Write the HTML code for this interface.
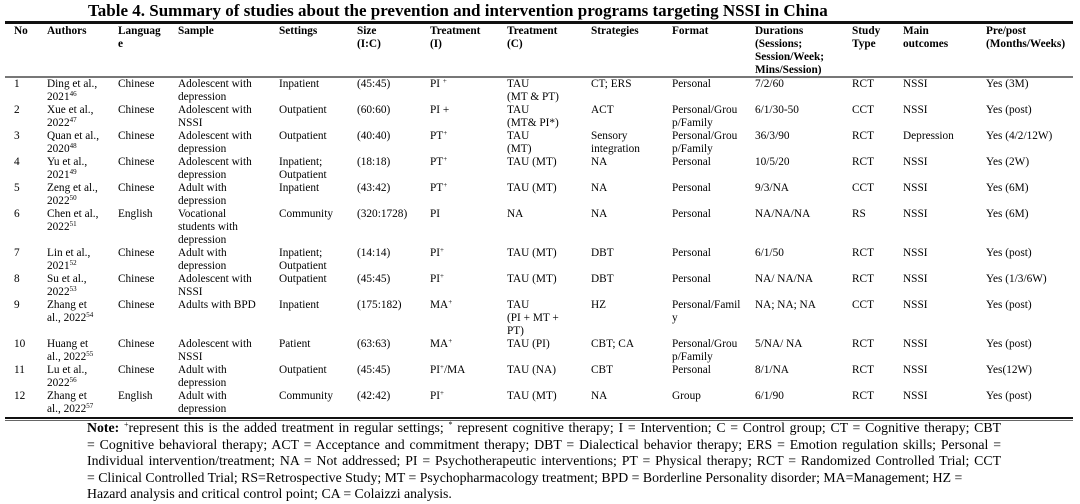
<!DOCTYPE html>
<html>
<head>
<meta charset="utf-8">
<style>
  html, body { margin:0; padding:0; background:#fff; }
  body { width:1080px; height:504px; position:relative; overflow:hidden;
         font-family:"Liberation Serif", "Times New Roman", serif; color:#000; }
  .title { position:absolute; left:0; top:1px; width:1080px; padding-left:88px; box-sizing:border-box;
           font-weight:bold; font-size:17px; line-height:20px; white-space:nowrap; }
  .rule { position:absolute; left:5px; width:1068px; }
  table { position:absolute; left:14px; top:25px; border-collapse:collapse; table-layout:fixed;
          font-size:11.3px; line-height:13px; }
  td, th { padding:0; margin:0; vertical-align:top; text-align:left; white-space:nowrap; overflow:visible; }
  th { font-weight:bold; height:52px; }
  tr.h2 td { height:26px; }
  tr.h3 td { height:39px; }
  sup { font-size:7px; vertical-align:4px; line-height:0; }
  .note { position:absolute; left:87px; top:420px; font-size:13.8px; line-height:16.6px; }
  .note div { white-space:nowrap; }
  .note .j { width:914px; text-align:justify; text-align-last:justify; }
  .note sup { font-size:8px; vertical-align:5px; }
</style>
</head>
<body>
<div class="title">Table 4. Summary of studies about the prevention and intervention programs targeting NSSI in China</div>

<div class="rule" style="top:21px;height:3px;background:#111;"></div>
<div class="rule" style="top:76px;height:1.5px;background:#777;"></div>
<div class="rule" style="top:416.5px;height:2px;background:#111;"></div>
<div class="rule" style="top:419.5px;height:1px;background:#666;"></div>

<table>
<colgroup>
<col style="width:33px"><col style="width:71px"><col style="width:60px"><col style="width:101px">
<col style="width:78px"><col style="width:73px"><col style="width:77px"><col style="width:84px">
<col style="width:81px"><col style="width:83px"><col style="width:97px"><col style="width:51px">
<col style="width:83px"><col style="width:89px">
</colgroup>
<tr>
<th>No</th><th>Authors</th><th>Languag<br>e</th><th>Sample</th><th>Settings</th><th>Size<br>(I:C)</th>
<th>Treatment<br>(I)</th><th>Treatment<br>(C)</th><th>Strategies</th><th>Format</th>
<th>Durations<br>(Sessions;<br>Session/Week;<br>Mins/Session)</th><th>Study<br>Type</th><th>Main<br>outcomes</th><th>Pre/post<br>(Months/Weeks)</th>
</tr>
<tr><td colspan="14" style="height:1px"></td></tr>
<tr class="h2"><td>1</td><td>Ding et al.,<br>2021<sup>46</sup></td><td>Chinese</td><td>Adolescent with<br>depression</td><td>Inpatient</td><td>(45:45)</td><td>PI <sup>+</sup></td><td>TAU<br>(MT &amp; PT)</td><td>CT; ERS</td><td>Personal</td><td>7/2/60</td><td>RCT</td><td>NSSI</td><td>Yes (3M)</td></tr>
<tr class="h2"><td>2</td><td>Xue et al.,<br>2022<sup>47</sup></td><td>Chinese</td><td>Adolescent with<br>NSSI</td><td>Outpatient</td><td>(60:60)</td><td>PI +</td><td>TAU<br>(MT&amp; PI*)</td><td>ACT</td><td>Personal/Grou<br>p/Family</td><td>6/1/30-50</td><td>CCT</td><td>NSSI</td><td>Yes (post)</td></tr>
<tr class="h2"><td>3</td><td>Quan et al.,<br>2020<sup>48</sup></td><td>Chinese</td><td>Adolescent with<br>depression</td><td>Outpatient</td><td>(40:40)</td><td>PT<sup>+</sup></td><td>TAU<br>(MT)</td><td>Sensory<br>integration</td><td>Personal/Grou<br>p/Family</td><td>36/3/90</td><td>RCT</td><td>Depression</td><td>Yes (4/2/12W)</td></tr>
<tr class="h2"><td>4</td><td>Yu et al.,<br>2021<sup>49</sup></td><td>Chinese</td><td>Adolescent with<br>depression</td><td>Inpatient;<br>Outpatient</td><td>(18:18)</td><td>PT<sup>+</sup></td><td>TAU (MT)</td><td>NA</td><td>Personal</td><td>10/5/20</td><td>RCT</td><td>NSSI</td><td>Yes (2W)</td></tr>
<tr class="h2"><td>5</td><td>Zeng et al.,<br>2022<sup>50</sup></td><td>Chinese</td><td>Adult with<br>depression</td><td>Inpatient</td><td>(43:42)</td><td>PT<sup>+</sup></td><td>TAU (MT)</td><td>NA</td><td>Personal</td><td>9/3/NA</td><td>CCT</td><td>NSSI</td><td>Yes (6M)</td></tr>
<tr class="h3"><td>6</td><td>Chen et al.,<br>2022<sup>51</sup></td><td>English</td><td>Vocational<br>students with<br>depression</td><td>Community</td><td>(320:1728)</td><td>PI</td><td>NA</td><td>NA</td><td>Personal</td><td>NA/NA/NA</td><td>RS</td><td>NSSI</td><td>Yes (6M)</td></tr>
<tr class="h2"><td>7</td><td>Lin et al.,<br>2021<sup>52</sup></td><td>Chinese</td><td>Adult with<br>depression</td><td>Inpatient;<br>Outpatient</td><td>(14:14)</td><td>PI<sup>+</sup></td><td>TAU (MT)</td><td>DBT</td><td>Personal</td><td>6/1/50</td><td>RCT</td><td>NSSI</td><td>Yes (post)</td></tr>
<tr class="h2"><td>8</td><td>Su et al.,<br>2022<sup>53</sup></td><td>Chinese</td><td>Adolescent with<br>NSSI</td><td>Outpatient</td><td>(45:45)</td><td>PI<sup>+</sup></td><td>TAU (MT)</td><td>DBT</td><td>Personal</td><td>NA/ NA/NA</td><td>RCT</td><td>NSSI</td><td>Yes (1/3/6W)</td></tr>
<tr class="h3"><td>9</td><td>Zhang et<br>al., 2022<sup>54</sup></td><td>Chinese</td><td>Adults with BPD</td><td>Inpatient</td><td>(175:182)</td><td>MA<sup>+</sup></td><td>TAU<br>(PI + MT +<br>PT)</td><td>HZ</td><td>Personal/Famil<br>y</td><td>NA; NA; NA</td><td>CCT</td><td>NSSI</td><td>Yes (post)</td></tr>
<tr class="h2"><td>10</td><td>Huang et<br>al., 2022<sup>55</sup></td><td>Chinese</td><td>Adolescent with<br>NSSI</td><td>Patient</td><td>(63:63)</td><td>MA<sup>+</sup></td><td>TAU (PI)</td><td>CBT; CA</td><td>Personal/Grou<br>p/Family</td><td>5/NA/ NA</td><td>RCT</td><td>NSSI</td><td>Yes (post)</td></tr>
<tr class="h2"><td>11</td><td>Lu et al.,<br>2022<sup>56</sup></td><td>Chinese</td><td>Adult with<br>depression</td><td>Outpatient</td><td>(45:45)</td><td>PI<sup>+</sup>/MA</td><td>TAU (NA)</td><td>CBT</td><td>Personal</td><td>8/1/NA</td><td>RCT</td><td>NSSI</td><td>Yes(12W)</td></tr>
<tr class="h2"><td>12</td><td>Zhang et<br>al., 2022<sup>57</sup></td><td>English</td><td>Adult with<br>depression</td><td>Community</td><td>(42:42)</td><td>PI<sup>+</sup></td><td>TAU (MT)</td><td>NA</td><td>Group</td><td>6/1/90</td><td>RCT</td><td>NSSI</td><td>Yes (post)</td></tr>
</table>

<div class="note">
<div class="j"><b>Note:</b> <sup>+</sup>represent this is the added treatment in regular settings; <sup>*</sup> represent cognitive therapy; I = Intervention; C = Control group; CT = Cognitive therapy; CBT</div>
<div class="j">= Cognitive behavioral therapy; ACT = Acceptance and commitment therapy; DBT = Dialectical behavior therapy; ERS = Emotion regulation skills; Personal =</div>
<div class="j">Individual intervention/treatment; NA = Not addressed; PI = Psychotherapeutic interventions; PT = Physical therapy; RCT = Randomized Controlled Trial; CCT</div>
<div>= Clinical Controlled Trial; RS=Retrospective Study; MT = Psychopharmacology treatment; BPD = Borderline Personality disorder; MA=Management; HZ =</div>
<div>Hazard analysis and critical control point; CA = Colaizzi analysis.</div>
</div>
</body>
</html>
